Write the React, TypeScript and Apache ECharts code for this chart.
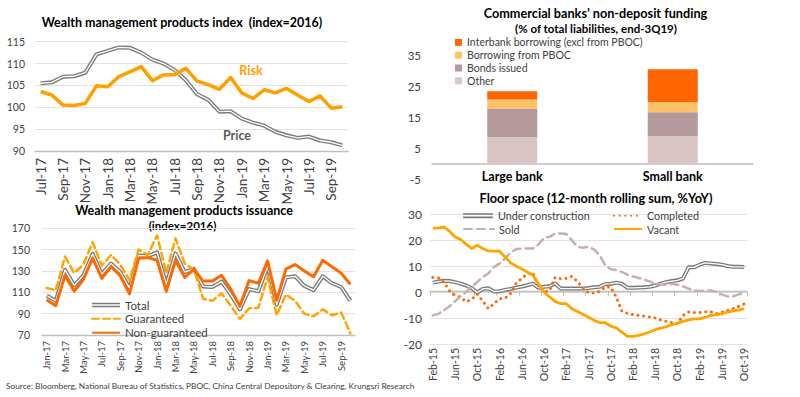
import React, { useEffect, useRef } from "react";
import * as echarts from "echarts";

// ---------- Panel 1: Wealth management products index ----------
const wmpMonths = ["Jul-17","Aug-17","Sep-17","Oct-17","Nov-17","Dec-17","Jan-18","Feb-18","Mar-18","Apr-18","May-18","Jun-18","Jul-18","Aug-18","Sep-18","Oct-18","Nov-18","Dec-18","Jan-19","Feb-19","Mar-19","Apr-19","May-19","Jun-19","Jul-19","Aug-19","Sep-19","Oct-19"];
const wmpPrice = [105.5,105.7,107.0,107.1,107.9,112.1,112.9,113.7,113.6,112.5,110.9,110.0,108.5,106.2,103.0,101.7,99.0,99.1,97.4,96.5,95.8,94.4,93.6,93.0,93.3,92.4,92.0,91.3];
const wmpRisk = [103.6,102.8,100.5,100.4,100.9,104.9,104.7,107.0,108.1,109.3,106.1,107.4,107.5,108.9,106.0,105.2,104.1,106.8,103.3,102.0,104.0,103.3,104.3,102.8,101.3,102.6,99.8,100.1];

// ---------- Panel 2: Commercial banks' non-deposit funding ----------
const bankCategories = ["Large bank", "Small bank"];
const fundOther = [8.7, 9.0];
const fundBonds = [9.2, 7.7];
const fundPboc = [2.9, 3.3];
const fundInterbank = [2.7, 10.6];

// ---------- Panel 3: Wealth management products issuance ----------
const issMonths = ["Jan-17","Feb-17","Mar-17","Apr-17","May-17","Jun-17","Jul-17","Aug-17","Sep-17","Oct-17","Nov-17","Dec-17","Jan-18","Feb-18","Mar-18","Apr-18","May-18","Jun-18","Jul-18","Aug-18","Sep-18","Oct-18","Nov-18","Dec-18","Jan-19","Feb-19","Mar-19","Apr-19","May-19","Jun-19","Jul-19","Aug-19","Sep-19","Oct-19"];
const issTotal = [107,102,131,116.5,126,146,127,137,129,114,144.5,144,147.5,117.5,146.5,129,132,115.5,115,120,108,94,113,111,134,98.5,124,125,116,112,125,118.5,115,102];
const issGuaranteed = [114,112,143.5,128,136,157,135,145,136,121.5,150,145,163.5,128,160.5,137,131.5,104,102,109,97.5,85,95,95.5,124,88.5,108,102,90,87.5,94,88.5,91,71.5];
const issNonGuaranteed = [103,97.5,126,111,122,142,123,134,125.5,108.5,142,142.5,140,111,140,124,131.5,120.5,120.5,126,113,97,121,118.5,139.5,102.5,132,136,130,124.5,140,134,128,117.5];

// ---------- Panel 4: Floor space ----------
const floorMonths = [
  "Feb-15","Mar-15","Apr-15","May-15","Jun-15","Jul-15","Aug-15","Sep-15","Oct-15","Nov-15","Dec-15",
  "Jan-16","Feb-16","Mar-16","Apr-16","May-16","Jun-16","Jul-16","Aug-16","Sep-16","Oct-16","Nov-16","Dec-16",
  "Jan-17","Feb-17","Mar-17","Apr-17","May-17","Jun-17","Jul-17","Aug-17","Sep-17","Oct-17","Nov-17","Dec-17",
  "Jan-18","Feb-18","Mar-18","Apr-18","May-18","Jun-18","Jul-18","Aug-18","Sep-18","Oct-18","Nov-18","Dec-18",
  "Jan-19","Feb-19","Mar-19","Apr-19","May-19","Jun-19","Jul-19","Aug-19","Sep-19","Oct-19"];
const floorUnderConstruction = [3.6,4.0,4.3,4.2,3.8,3.2,2.5,1.5,-0.2,1.2,1.4,0.2,0.3,0.8,1.2,1.7,2.1,2.6,3.2,1.6,2.0,2.2,3.3,1.3,1.3,1.3,1.3,1.3,1.5,1.8,2.0,3.0,3.2,3.6,3.2,1.6,1.6,1.7,1.8,2.0,2.5,3.2,3.8,4.2,4.5,5.2,9.5,9.5,10.5,11.2,11.0,10.8,10.5,10.0,9.7,9.7,9.6];
const floorCompleted = [5.6,5.4,3.8,0.5,-1.3,-2.0,-3.8,-2.8,-0.8,-3.5,-6.4,-4.5,-2.6,-2.4,-0.5,3.5,5.2,7.0,7.4,2.5,0.0,0.5,5.6,5.1,5.2,6.0,4.0,1.5,-0.3,-0.4,0.2,1.9,1.9,-2.0,-7.4,-8.2,-8.7,-9.0,-9.3,-9.6,-10.0,-10.8,-11.3,-11.8,-12.2,-9.0,-7.7,-7.9,-7.9,-7.6,-7.6,-8.3,-7.8,-7.1,-6.4,-5.5,-4.6];
const floorSold = [-9.0,-8.4,-7.1,-5.5,-3.6,-1.7,0.0,1.9,3.9,5.8,7.1,9.7,10.9,12.9,15.2,16.5,16.7,16.7,16.7,18.3,20.8,21.2,22.5,22.5,22.3,19.9,17.4,17.0,17.4,16.3,14.2,10.3,8.8,8.4,7.7,6.7,6.0,5.4,4.8,4.1,3.2,2.8,2.8,3.2,2.8,2.2,1.3,0.6,0.4,0.6,0.6,0.0,-1.0,-1.7,-1.7,-0.9,0.0];
const floorVacant = [24.5,24.7,25.0,23.4,21.2,20.2,18.4,16.7,18.0,16.7,15.8,15.7,15.7,13.5,11.2,10.0,8.8,7.7,6.4,3.2,0.0,-1.9,-3.6,-4.5,-4.5,-6.4,-7.5,-8.6,-9.7,-10.9,-11.8,-11.8,-13.1,-13.8,-15.4,-17.1,-17.1,-16.7,-16.1,-15.4,-14.5,-13.9,-13.3,-12.6,-12.0,-11.3,-10.7,-10.3,-10.3,-9.7,-9.0,-8.8,-8.4,-7.7,-7.3,-7.0,-6.4];

const FONT = "Lato, 'Noto Sans', sans-serif";
const GRAY = "#7a7a7a";
const INNER = "#ffffff";
const DOUBLE_ICON = "path://M0 0H30V5H0Z M0 1.6V3.4H30V1.6Z";
const AXIS_COLOR = "#BFBFBF";
const GRID_COLOR = "#E3E3E3";
const LABEL_COLOR = "#404040";

function makeOption(): any {
  const text = (t: string, x: number, y: number, size: number, weight: string, color: string, align = "center") => ({
    type: "text",
    x,
    y,
    silent: true,
    style: {
      text: t,
      fill: color,
      fontSize: size,
      fontWeight: weight,
      fontFamily: FONT,
      textAlign: align,
      textVerticalAlign: "middle",
    },
  });

  const catAxisRot = (grid: number, data: string[], size: number, interval: number, margin: number) => ({
    type: "category",
    gridIndex: grid,
    data,
    boundaryGap: true,
    axisLine: { show: true, onZero: false, lineStyle: { color: AXIS_COLOR, width: 1.3 } },
    axisTick: { show: false },
    axisLabel: { rotate: 90, interval, fontSize: size, color: LABEL_COLOR, margin, fontFamily: FONT },
  });

  const valAxis = (grid: number, min: number, max: number, interval: number, size: number, margin: number, split: boolean) => ({
    type: "value",
    gridIndex: grid,
    min,
    max,
    interval,
    axisLine: { show: false },
    axisTick: { show: false },
    splitLine: { show: split, lineStyle: { color: GRID_COLOR, width: 1 } },
    axisLabel: { fontSize: size, color: LABEL_COLOR, margin, fontFamily: FONT },
  });

  const line = (name: string, xi: number, yi: number, data: number[], color: string, width: number, type: any = "solid", z = 2) => ({
    name,
    type: "line",
    xAxisIndex: xi,
    yAxisIndex: yi,
    data,
    symbol: "none",
    showSymbol: false,
    z,
    lineStyle: { color, width, type, cap: type === "solid" ? "butt" : "round", join: "round" },
    itemStyle: { color },
    emphasis: { disabled: true },
  });

  const bar = (name: string, data: number[], color: string) => ({
    name,
    type: "bar",
    xAxisIndex: 1,
    yAxisIndex: 1,
    stack: "fund",
    data,
    barWidth: 50,
    itemStyle: { color },
    emphasis: { disabled: true },
  });

  const legendTextStyle = (size: number, lh: number) => ({ fontSize: size, color: LABEL_COLOR, fontFamily: FONT, lineHeight: lh });
  // legend entry for a plain line: hide the symbol that ECharts puts in the middle of the line icon
  const lineEntry = (name: string) => ({ name, itemStyle: { opacity: 0 } });
  const doubleEntry = (name: string) => ({ name, icon: DOUBLE_ICON, itemStyle: { color: GRAY, borderWidth: 0, opacity: 1 } });

  return {
    animation: false,
    backgroundColor: "#ffffff",
    textStyle: { fontFamily: FONT },
    grid: [
      { left: 35, top: 41.7, width: 313, height: 109.3 },
      { left: 432, top: 55.7, width: 321, height: 123.6 },
      { left: 42, top: 228.3, width: 313, height: 106.7 },
      { left: 430, top: 214, width: 317, height: 130 },
    ],
    xAxis: [
      catAxisRot(0, wmpMonths, 13.5, 1, 7),
      {
        type: "category",
        gridIndex: 1,
        data: bankCategories,
        position: "bottom",
        offset: -15.5,
        axisLine: { show: true, onZero: false, lineStyle: { color: AXIS_COLOR, width: 1.5 } },
        axisTick: { show: false },
        axisLabel: { fontSize: 12.5, fontWeight: "bold", color: "#000", margin: 6, fontFamily: FONT },
      },
      catAxisRot(2, issMonths, 9.5, 1, 6),
      {
        type: "category",
        gridIndex: 3,
        data: floorMonths,
        position: "bottom",
        offset: -52.3,
        boundaryGap: true,
        axisLine: { show: true, onZero: false, lineStyle: { color: AXIS_COLOR, width: 1.3 } },
        axisTick: { show: true, interval: 3, length: 4, lineStyle: { color: AXIS_COLOR } },
        axisLabel: { show: false },
      },
      {
        type: "category",
        gridIndex: 3,
        data: floorMonths,
        position: "bottom",
        boundaryGap: true,
        axisLine: { show: false, onZero: false },
        axisTick: { show: false },
        axisLabel: { rotate: 90, interval: 3, fontSize: 10.5, color: LABEL_COLOR, margin: 4, fontFamily: FONT },
      },
    ],
    yAxis: [
      valAxis(0, 90, 115, 5, 10.5, 10, true),
      valAxis(1, -5, 35, 10, 11.5, 11, false),
      valAxis(2, 70, 170, 20, 10.5, 12, true),
      valAxis(3, -20, 30, 10, 12, 8, true),
    ],
    legend: [
      {
        orient: "vertical",
        left: 455,
        top: 36,
        padding: 0,
        itemWidth: 7,
        itemHeight: 7,
        itemGap: 0,
        icon: "rect",
        selectedMode: false,
        textStyle: legendTextStyle(10.5, 12.8),
        data: ["Interbank borrowing (excl from PBOC)", "Borrowing from PBOC", "Bonds issued", "Other"],
      },
      {
        orient: "vertical",
        left: 91,
        top: 298.5,
        padding: 0,
        itemWidth: 28,
        itemHeight: 5,
        itemGap: 0.85,
        selectedMode: false,
        textStyle: legendTextStyle(11.5, 13),
        data: [doubleEntry("Total"), lineEntry("Guaranteed"), lineEntry("Non-guaranteed")],
      },
      {
        left: 463, top: 209.7, padding: 0, itemWidth: 30, itemHeight: 5, selectedMode: false,
        textStyle: legendTextStyle(10.8, 12),
        data: [doubleEntry("Under construction")],
      },
      {
        left: 613, top: 209.7, padding: 0, itemWidth: 28, itemHeight: 5, selectedMode: false,
        textStyle: legendTextStyle(10.8, 12),
        data: [lineEntry("Completed")],
      },
      {
        left: 463, top: 223, padding: 0, itemWidth: 30, itemHeight: 5, selectedMode: false,
        textStyle: legendTextStyle(10.8, 12),
        data: [lineEntry("Sold")],
      },
      {
        left: 613, top: 223, padding: 0, itemWidth: 28, itemHeight: 5, selectedMode: false,
        textStyle: legendTextStyle(10.8, 12),
        data: [lineEntry("Vacant")],
      },
    ],
    series: [
      // Panel 1
      line("Price", 0, 0, wmpPrice, GRAY, 4),
      line("Price inner", 0, 0, wmpPrice, INNER, 1.3, "solid", 3),
      line("Risk", 0, 0, wmpRisk, "#FFA000", 3.5, "solid", 4),
      // Panel 2
      bar("Other", fundOther, "#D9C5C5"),
      bar("Bonds issued", fundBonds, "#B39999"),
      bar("Borrowing from PBOC", fundPboc, "#FFC266"),
      bar("Interbank borrowing (excl from PBOC)", fundInterbank, "#FF6600"),
      // Panel 3
      line("Total", 2, 2, issTotal, GRAY, 4),
      line("Total inner", 2, 2, issTotal, INNER, 1.3, "solid", 3),
      line("Guaranteed", 2, 2, issGuaranteed, "#FFA500", 2.5, [7, 4], 4),
      line("Non-guaranteed", 2, 2, issNonGuaranteed, "#FF6A00", 3, "solid", 5),
      // Panel 4
      line("Under construction", 3, 3, floorUnderConstruction, GRAY, 4),
      line("Under construction inner", 3, 3, floorUnderConstruction, INNER, 1.3, "solid", 3),
      line("Completed", 3, 3, floorCompleted, "#FF6A00", 3, [0.01, 5.7], 4),
      line("Sold", 3, 3, floorSold, "#C9AEAE", 2.5, [8, 5], 4),
      line("Vacant", 3, 3, floorVacant, "#FFA500", 2.8, "solid", 5),
    ],
    graphic: [
      text("Wealth management products index  (index=2016)", 182, 22.7, 12.5, "bold", "#000"),
      text("Risk", 251, 70, 12.5, "bold", "#FFA000"),
      text("Price", 237, 135.5, 12.5, "bold", "#595959"),
      text("Commercial banks\u2019 non-deposit funding", 595.5, 13.3, 12.7, "bold", "#000"),
      text("(% of total liabilities, end-3Q19)", 596, 28.3, 11.5, "bold", "#000"),
      text("Wealth management products issuance", 184, 210, 12.5, "bold", "#000"),
      text("(index=2016)", 182.5, 225.7, 11.5, "bold", "#000"),
      text("Floor space (12-month rolling sum, %YoY)", 596, 197.5, 12.7, "bold", "#000"),
      text("Source: Bloomberg, National Bureau of Statistics, PBOC, China Central Depository & Clearing, Krungsri Research", 6, 386, 8.3, "normal", "#404040", "left"),
    ],
  };
}

export default function App() {
  const ref = useRef<HTMLDivElement>(null);
  useEffect(() => {
    if (!ref.current) return;
    const chart = echarts.init(ref.current, undefined, { renderer: "svg" });
    chart.setOption(makeOption());
    return () => chart.dispose();
  }, []);
  return (
    <div
      ref={ref}
      style={{ position: "fixed", left: 0, top: 0, width: 800, height: 397, background: "#fff" }}
    />
  );
}
